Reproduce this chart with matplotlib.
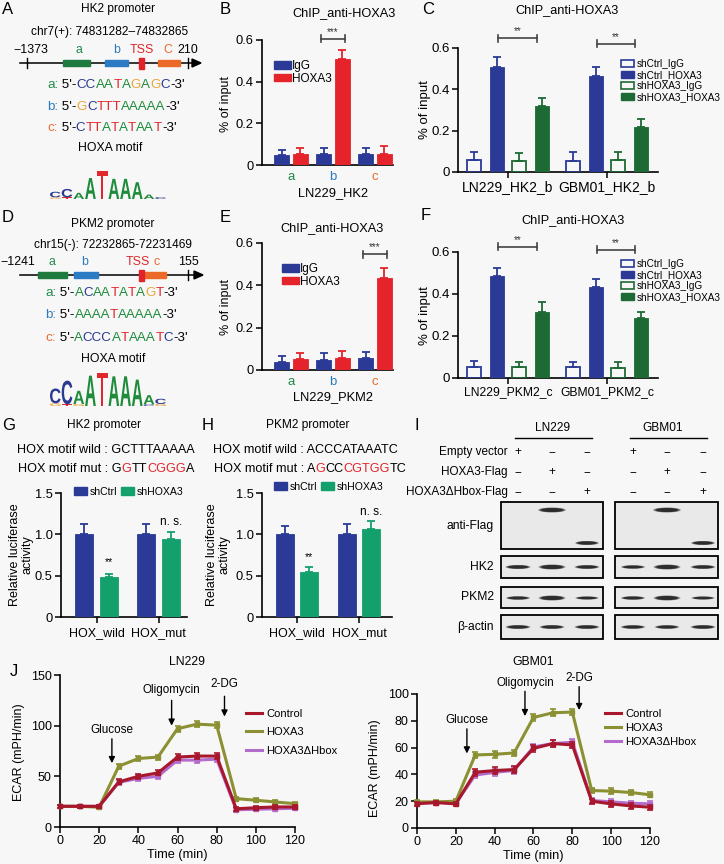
import numpy as np
import matplotlib
matplotlib.use("Agg")
import matplotlib.pyplot as plt
from matplotlib.patches import Rectangle, Ellipse, Patch, PathPatch, Polygon
from matplotlib.lines import Line2D
from matplotlib.textpath import TextPath
from matplotlib.font_manager import FontProperties
from matplotlib.transforms import Affine2D

plt.rcParams['font.family'] = ['Liberation Sans', 'DejaVu Sans']
plt.rcParams['axes.linewidth'] = 1.2
plt.rcParams['xtick.major.width'] = 1.1
plt.rcParams['ytick.major.width'] = 1.1

# ---------------- data ----------------
# B / E : ChIP at promoter sites a, b, c
sites = ['a', 'b', 'c']
hk2_igg = [0.050, 0.055, 0.052]
hk2_igg_err = [0.020, 0.025, 0.028]
hk2_hoxa3 = [0.055, 0.510, 0.055]
hk2_hoxa3_err = [0.025, 0.040, 0.035]
pkm2_igg = [0.040, 0.048, 0.055]
pkm2_igg_err = [0.025, 0.030, 0.030]
pkm2_hoxa3 = [0.050, 0.057, 0.435]
pkm2_hoxa3_err = [0.030, 0.035, 0.045]

# C / F : ChIP after knockdown
kd_series = ['shCtrl_IgG', 'shCtrl_HOXA3', 'shHOXA3_IgG', 'shHOXA3_HOXA3']
hk2b_groups = ['LN229_HK2_b', 'GBM01_HK2_b']
hk2b_shctrl_igg = [0.060, 0.055]
hk2b_shctrl_igg_err = [0.035, 0.040]
hk2b_shctrl_hoxa3 = [0.510, 0.465]
hk2b_shctrl_hoxa3_err = [0.045, 0.045]
hk2b_shhoxa3_igg = [0.055, 0.060]
hk2b_shhoxa3_igg_err = [0.035, 0.035]
hk2b_shhoxa3_hoxa3 = [0.320, 0.220]
hk2b_shhoxa3_hoxa3_err = [0.040, 0.035]

pkm2c_groups = ['LN229_PKM2_c', 'GBM01_PKM2_c']
pkm2c_shctrl_igg = [0.052, 0.052]
pkm2c_shctrl_igg_err = [0.030, 0.022]
pkm2c_shctrl_hoxa3 = [0.485, 0.432]
pkm2c_shctrl_hoxa3_err = [0.040, 0.040]
pkm2c_shhoxa3_igg = [0.053, 0.050]
pkm2c_shhoxa3_igg_err = [0.025, 0.025]
pkm2c_shhoxa3_hoxa3 = [0.315, 0.288]
pkm2c_shhoxa3_hoxa3_err = [0.045, 0.028]

# G / H : luciferase
luc_groups = ['HOX_wild', 'HOX_mut']
hk2_luc_shctrl = [1.00, 1.00]
hk2_luc_shctrl_err = [0.12, 0.13]
hk2_luc_shhoxa3 = [0.48, 0.94]
hk2_luc_shhoxa3_err = [0.045, 0.09]
pkm2_luc_shctrl = [1.00, 1.00]
pkm2_luc_shctrl_err = [0.10, 0.12]
pkm2_luc_shhoxa3 = [0.55, 1.07]
pkm2_luc_shhoxa3_err = [0.05, 0.09]

# I : western blot band intensities (lanes: empty, HOXA3, dHbox)
treatments = ['Empty vector', 'HOXA3-Flag', 'HOXA3\u0394Hbox-Flag']
treat_signs = [['+', '\u2212', '\u2212'], ['\u2212', '+', '\u2212'], ['\u2212', '\u2212', '+']]
flag_full = [0, 1.0, 0]
flag_hbox = [0, 0, 1.0]
ln229_hk2 = [0.75, 1.0, 0.7]
gbm01_hk2 = [0.6, 1.0, 0.7]
ln229_pkm2 = [0.6, 1.0, 0.5]
gbm01_pkm2 = [0.6, 1.0, 0.5]
ln229_actin = [0.7, 0.7, 0.7]
gbm01_actin = [0.65, 0.65, 0.7]

# J : ECAR time course
time_min = [0, 10, 20, 30, 40, 50, 60, 70, 80, 90, 100, 110, 120]
ln229_control = [20.4, 20.4, 20.4, 44.5, 50.0, 53.4, 69.0, 70.0, 70.0, 18.0, 19.0, 19.8, 19.8]
ln229_hoxa3 = [20.4, 20.4, 19.5, 60.0, 67.6, 69.0, 97.0, 101.5, 100.5, 28.0, 26.4, 24.7, 23.0]
ln229_hbox = [20.4, 20.4, 20.4, 44.0, 48.0, 50.0, 66.0, 66.0, 67.0, 17.0, 17.5, 18.0, 18.5]
ln229_err = [1.5, 1.5, 1.5, 2.5, 2.5, 2.5, 3.0, 3.0, 3.0, 2.0, 2.0, 2.0, 2.0]
gbm01_control = [18.2, 19.0, 18.0, 41.6, 42.9, 43.6, 59.4, 63.0, 62.0, 20.0, 18.0, 16.5, 15.5]
gbm01_hoxa3 = [19.5, 19.5, 20.0, 54.5, 55.0, 56.0, 82.5, 86.0, 86.5, 28.0, 27.5, 26.5, 24.8]
gbm01_hbox = [18.5, 19.0, 18.5, 39.5, 41.5, 43.0, 60.5, 63.0, 64.0, 20.5, 19.5, 18.5, 18.0]
gbm01_err = [1.5, 1.5, 1.5, 2.5, 2.5, 2.5, 2.5, 2.5, 2.5, 2.0, 2.0, 2.0, 2.0]

# motif logos: stacks of (letter, relative height) bottom to top
hk2_logo = [[('G', .06), ('C', .20)], [('T', .06), ('C', .30)], [('A', .22)], [('A', .75)],
            [('T', 1.0)], [('A', .72)], [('A', .72)], [('A', .60)], [('A', .16)], [('C', .07)]]
pkm2_logo = [[('G', .08), ('C', .45)], [('T', .05), ('C', .72)], [('G', .06), ('A', .40)], [('A', .92)],
             [('T', 1.0)], [('A', .90)], [('A', .90)], [('A', .80)], [('C', .05), ('A', .28)], [('G', .06), ('C', .16)]]

# ---------------- style ----------------
BLUE = '#2a3a96'
RED = '#e4232b'
DKGREEN = '#1d6a34'
GREEN = '#14a06c'
J_CTRL = '#a8182c'
J_HOXA3 = '#8b9132'
J_HBOX = '#b46ccc'
NUC = {'A': '#1e8c3a', 'C': '#2b3990', 'G': '#eaa53a', 'T': '#e1262c'}
SITE = {'a': '#1f8a4b', 'b': '#2c7bbf', 'c': '#ea6a2a'}

W, H = 724, 864
BG = '#f7f7f7'
fig = plt.figure(figsize=(W / 100, H / 100), dpi=100, facecolor=BG)
ov = fig.add_axes([0, 0, 1, 1])
ov.set_xlim(0, W)
ov.set_ylim(H, 0)
ov.axis('off')


def fx(x):
    return x / W


def fy(y):
    return 1 - y / H


def txt(x, y, s, size=8.3, ha='center', va='center', **kw):
    return ov.text(x, y, s, fontsize=size, ha=ha, va=va, **kw)


def rich(x, y, parts, size):
    t = ov.text(x, y, parts[0][0], color=parts[0][1], fontsize=size, ha='left', va='center')
    for s, c in parts[1:]:
        t = ov.annotate(s, xy=(1, 0), xycoords=t, color=c, fontsize=size, ha='left', va='bottom')


def seq_line(x, y, site, seq):
    parts = [(site + ':', SITE[site]), (" 5'-", 'black')]
    for ch in seq:
        if parts[-1][1] == NUC[ch] and len(parts) > 2:
            parts[-1] = (parts[-1][0] + ch, NUC[ch])
        else:
            parts.append((ch, NUC[ch]))
    parts.append(("-3'", 'black'))
    rich(x, y, parts, 9.6)


def promoter(y, x0, x1, ticks, boxes, labels):
    ov.plot([x0, x1 - 6], [y, y], color='k', lw=1.1)
    ov.add_patch(Polygon([[x1 - 9, y - 4], [x1, y], [x1 - 9, y + 4]], closed=True, color='k'))
    for tx in ticks:
        ov.plot([tx, tx], [y - 5, y + 5], color='k', lw=1)
    for a, b, c, h in boxes:
        ov.add_patch(Rectangle((a, y - h / 2), b - a, h, color=c, zorder=3))
    for lx, ly, s, c in labels:
        txt(lx, ly, s, 8.9, color=c)


logo_font = FontProperties(family='Liberation Sans', weight='bold')


def logo(stacks, x0, x1, ybot, hmax):
    cw = (x1 - x0) / len(stacks)
    for i, stack in enumerate(stacks):
        yb = ybot
        for ch, rh in stack:
            h = rh * hmax
            tp = TextPath((0, 0), ch, size=100, prop=logo_font)
            bb = tp.get_extents()
            tr = Affine2D().translate(-bb.x0, -bb.y0).scale((cw - 1) / bb.width, -h / bb.height)
            tr = tr.translate(x0 + i * cw, yb)
            ov.add_patch(PathPatch(tr.transform_path(tp), facecolor=NUC[ch], edgecolor='none'))
            yb -= h


def style_ax(ax, labelsize=9.3):
    ax.set_facecolor('none')
    ax.spines['top'].set_visible(False)
    ax.spines['right'].set_visible(False)
    ax.tick_params(direction='out', length=4, labelsize=labelsize, pad=2)


def bar_panel(x0, x1, y0, y_tick, tick_val, top_val, c0, spacing):
    ppu = (y0 - y_tick) / tick_val
    ytop = y0 - top_val * ppu
    ax = fig.add_axes([fx(x0), fy(y0), (x1 - x0) / W, (y0 - ytop) / H])
    style_ax(ax)
    ax.set_ylim(0, top_val)
    ax.set_xlim((x0 - c0) / spacing, (x1 - c0) / spacing)
    ax.spines['left'].set_bounds(0, tick_val)
    return ax, ppu


def draw_bars(ax, pos, vals, errs, color, width, hollow=False):
    if hollow:
        ax.bar(pos, vals, width, facecolor='none', edgecolor=color, linewidth=1.3, zorder=3)
    else:
        ax.bar(pos, vals, width, facecolor=color, edgecolor=color, linewidth=0.6, zorder=3)
    ax.errorbar(pos, vals, yerr=[np.zeros(len(vals)), errs], fmt='none', ecolor=color,
                elinewidth=1.3, capsize=3, capthick=1.3, zorder=3, clip_on=False)


def sig(ax, x1, x2, y, label, ppu, size=7):
    d = 3.5 / ppu
    kw = dict(color='#444444', lw=1.2, clip_on=False)
    ax.plot([x1, x2], [y, y], **kw)
    ax.plot([x1, x1], [y - d, y + d], **kw)
    ax.plot([x2, x2], [y - d, y + d], **kw)
    ax.text((x1 + x2) / 2, y + 2 / ppu, label, ha='center', va='bottom', fontsize=size, color='#333333')


# ---------------- panel labels ----------------
for lab, x, y in [('A', 2, 10), ('B', 220, 10), ('C', 422, 10), ('D', 2, 217), ('E', 220, 218),
                  ('F', 421, 215), ('G', 2, 425), ('H', 202, 425), ('I', 414, 425), ('J', 10, 672)]:
    txt(x, y, lab, 12, ha='left')

# ---------------- A ----------------
txt(118, 9, 'HK2 promoter', 8.6)
txt(110, 32, 'chr7(+): 74831282\u201374832865', 8.6)
promoter(63, 20, 201, [27, 188],
         [(63, 90, '#1f7a3f', 6), (105, 128, '#2b7cc4', 6), (139, 144, '#e0242a', 11), (158, 180, '#eb6a2a', 6)],
         [(31, 50, '\u22121373', 'black'), (79, 50, 'a', SITE['a']), (117, 50, 'b', SITE['b']),
          (142, 50, 'TSS', '#e0242a'), (168, 50, 'C', SITE['c']), (188, 50, '210', 'black')])
seq_line(47, 85, 'a', 'CCAATAGAGC')
seq_line(47, 107, 'b', 'GCTTTAAAAA')
seq_line(47, 128, 'c', 'CTTATATAAT')
txt(110, 148, 'HOXA motif', 8.8)
logo(hk2_logo, 50, 167, 199, 28)

# ---------------- D ----------------
txt(113, 224, 'PKM2 promoter', 8.6)
txt(113, 245, 'chr15(-): 72232865-72231469', 8.6)
promoter(275, 20, 203, [188],
         [(38, 67, '#1f7a3f', 6), (74, 98, '#2b7cc4', 6), (144, 166, '#eb6a2a', 6), (139, 144, '#e0242a', 11)],
         [(18, 262, '\u22121241', 'black'), (52, 262, 'a', SITE['a']), (85, 262, 'b', SITE['b']),
          (138, 262, 'TSS', '#e0242a'), (157, 262, 'c', SITE['c']), (188, 262, '155', 'black')])
seq_line(45, 293, 'a', 'ACAATATAGT')
seq_line(45, 315, 'b', 'AAAATAAAAA')
seq_line(45, 338, 'c', 'ACCCATAAATC')
txt(113, 359, 'HOXA motif', 8.8)
logo(pkm2_logo, 50, 167, 406, 33)

# ---------------- B & E ----------------
xs = np.arange(len(sites))


def site_panel(y0, y06, igg, igg_err, hox, hox_err, title, title_xy, xlabel, xlabel_y,
               ylab_y, leg_y, leg_x, sig_group, sig_y):
    ax, ppu = bar_panel(262, 393, y0, y06, 0.6, 0.72, 291, 42)
    draw_bars(ax, xs - 0.225, igg, igg_err, BLUE, 0.36)
    draw_bars(ax, xs + 0.225, hox, hox_err, RED, 0.36)
    ax.set_yticks([0, 0.2, 0.4, 0.6])
    ax.set_yticklabels(['0', '0.2', '0.4', '0.6'])
    ax.set_xticks(xs)
    ax.set_xticklabels(sites, fontsize=9.5)
    for lab, s in zip(ax.get_xticklabels(), sites):
        lab.set_color(SITE[s])
    ax.tick_params(axis='x', length=0, pad=4)
    sig(ax, sig_group - 0.29, sig_group + 0.29, sig_y, '***', ppu)
    ax.legend(handles=[Patch(color=BLUE), Patch(color=RED)], labels=['IgG', 'HOXA3'],
              loc='upper left', bbox_to_anchor=(fx(leg_x), fy(leg_y)), bbox_transform=fig.transFigure,
              frameon=False, fontsize=8.5, handlelength=1.4, handleheight=0.6, handletextpad=0.15,
              labelspacing=0.05, borderpad=0, borderaxespad=0)
    txt(title_xy[0], title_xy[1], title, 9.2)
    txt(333, xlabel_y, xlabel, 9.3)
    txt(226, ylab_y, '% of input', 9, rotation=90)
    return ax


site_panel(165, 40, hk2_igg, hk2_igg_err, hk2_hoxa3, hk2_hoxa3_err, 'ChIP_anti-HOXA3', (344, 13),
           'LN229_HK2', 193, 104, 60, 274, 1, 0.605)
site_panel(370, 243, pkm2_igg, pkm2_igg_err, pkm2_hoxa3, pkm2_hoxa3_err, 'ChIP_anti-HOXA3', (332, 228),
           'LN229_PKM2', 397, 307, 263, 282, 2, 0.548)

# ---------------- C & F ----------------
offs = [-0.343, -0.111, 0.111, 0.343]
xs2 = np.arange(2)


def kd_panel(y0, y06, groups, vals, errs, title_xy, ylab_y, leg_y, sig_ys, xlab_size):
    ax, ppu = bar_panel(458, 658, y0, y06, 0.6, 0.72, 508, 99)
    cols = [BLUE, BLUE, DKGREEN, DKGREEN]
    hol = [True, False, True, False]
    for k in range(4):
        draw_bars(ax, xs2 + offs[k], vals[k], errs[k], cols[k], 0.15, hollow=hol[k])
    ax.set_yticks([0, 0.2, 0.4, 0.6])
    ax.set_yticklabels(['0', '0.2', '0.4', '0.6'], fontsize=9.5)
    ax.set_xticks(xs2)
    ax.set_xticklabels(groups, fontsize=xlab_size)
    sig(ax, -0.10, 0.29, sig_ys[0], '**', ppu)
    sig(ax, 0.90, 1.28, sig_ys[1], '**', ppu)
    handles = [Patch(facecolor='none', edgecolor=BLUE, lw=1.2), Patch(color=BLUE),
               Patch(facecolor='none', edgecolor=DKGREEN, lw=1.2), Patch(color=DKGREEN)]
    ax.legend(handles=handles, labels=kd_series, loc='upper left', bbox_to_anchor=(fx(621), fy(leg_y)),
              bbox_transform=fig.transFigure, frameon=False, fontsize=7.2, handlelength=1.3,
              handleheight=0.7, handletextpad=0.3, labelspacing=0.1, borderpad=0, borderaxespad=0)
    txt(title_xy[0], title_xy[1], 'ChIP_anti-HOXA3', 9.2)
    txt(425, ylab_y, '% of input', 9.5, rotation=90)


kd_panel(172, 48, hk2b_groups,
         [hk2b_shctrl_igg, hk2b_shctrl_hoxa3, hk2b_shhoxa3_igg, hk2b_shhoxa3_hoxa3],
         [hk2b_shctrl_igg_err, hk2b_shctrl_hoxa3_err, hk2b_shhoxa3_igg_err, hk2b_shhoxa3_hoxa3_err],
         (567, 10), 110, 59, [0.648, 0.62], 10)
kd_panel(378, 252, pkm2c_groups,
         [pkm2c_shctrl_igg, pkm2c_shctrl_hoxa3, pkm2c_shhoxa3_igg, pkm2c_shhoxa3_hoxa3],
         [pkm2c_shctrl_igg_err, pkm2c_shctrl_hoxa3_err, pkm2c_shhoxa3_igg_err, pkm2c_shhoxa3_hoxa3_err],
         (573, 220), 316, 259, [0.624, 0.61], 8.7)

# ---------------- G & H ----------------


def luc_panel(x0, x1, c0, ctrl, ctrl_err, kd, kd_err, title, title_x, wild_parts, mut_parts, text_x,
              ylab_x, leg_x, leg_y, star_y, ns_y):
    ax, ppu = bar_panel(x0, x1, 617, 493, 1.5, 1.6, c0, 62)
    draw_bars(ax, xs2 - 0.2, ctrl, ctrl_err, BLUE, 0.29)
    draw_bars(ax, xs2 + 0.2, kd, kd_err, GREEN, 0.29)
    ax.set_yticks([0, 0.5, 1.0, 1.5])
    ax.set_yticklabels(['0', '0.5', '1.0', '1.5'])
    ax.set_xticks(xs2)
    ax.set_xticklabels(luc_groups, fontsize=9)
    ax.tick_params(axis='x', pad=3)
    ax.text(0.2, star_y, '**', ha='center', va='center', fontsize=7.5)
    ax.text(1.2, ns_y, 'n. s.', ha='center', va='center', fontsize=8.5)
    ax.legend(handles=[Patch(color=BLUE), Patch(color=GREEN)], labels=['shCtrl', 'shHOXA3'], ncol=2,
              loc='center left', bbox_to_anchor=(fx(leg_x), fy(leg_y)), bbox_transform=fig.transFigure,
              frameon=False, fontsize=7.6, handlelength=1.25, handleheight=0.75, handletextpad=0.25,
              columnspacing=0.3, borderpad=0, borderaxespad=0)
    txt(title_x, 425, title, 8.6)
    rich(text_x, 450, wild_parts, 9.1)
    rich(text_x + 1, 469, mut_parts, 9.1)
    txt(ylab_x, 555, 'Relative luciferase\nactivity', 9, rotation=90, linespacing=1.05)


luc_panel(61, 187, 96.5, hk2_luc_shctrl, hk2_luc_shctrl_err, hk2_luc_shhoxa3, hk2_luc_shhoxa3_err,
          'HK2 promoter', 104,
          [('HOX motif wild : GCTTTAAAAA', 'black')],
          [('HOX motif mut : G', 'black'), ('G', RED), ('TT', 'black'), ('CGGG', RED), ('A', 'black')],
          17, 21, 74, 492, 0.665, 1.15)
luc_panel(262, 392, 297, pkm2_luc_shctrl, pkm2_luc_shctrl_err, pkm2_luc_shhoxa3, pkm2_luc_shhoxa3_err,
          'PKM2 promoter', 308,
          [('HOX motif wild : ACCCATAAATC', 'black')],
          [('HOX motif mut : A', 'black'), ('G', RED), ('CC', 'black'), ('CGTGG', RED), ('TC', 'black')],
          213, 218, 274, 487, 0.73, 1.27)

# ---------------- I : western blot ----------------
lanes = {'LN229': [518, 552, 587], 'GBM01': [633, 667, 703]}
boxes_x = {'LN229': (501, 603), 'GBM01': (615, 718)}
txt(553, 428, 'LN229', 8.6)
ov.plot([515, 592], [438, 438], color='k', lw=1)
txt(663, 428, 'GBM01', 8.6)
ov.plot([630, 707], [438, 438], color='k', lw=1)
for r, (lab, signs) in enumerate(zip(treatments, treat_signs)):
    yy = 452 + 20 * r
    txt(508, yy, lab, 8.5, ha='right')
    for cl in ['LN229', 'GBM01']:
        for lx, s in zip(lanes[cl], signs):
            txt(lx, yy, s, 8.5)

rows = [('anti-Flag', 502, 549), ('HK2', 556, 578), ('PKM2', 587, 608), ('\u03b2-actin', 615, 639)]
for lab, y0, y1 in rows:
    txt(494, (y0 + y1) / 2, lab, 8.7, ha='right')
    for cl in ['LN229', 'GBM01']:
        bx0, bx1 = boxes_x[cl]
        ov.add_patch(Rectangle((bx0, y0), bx1 - bx0, y1 - y0, facecolor='#e9e9e9', edgecolor='k', lw=1.3, zorder=3))


def band(x, y, inten, wbase=20, hbase=2.5):
    if inten <= 0:
        return
    w = wbase + 7 * inten
    h = hbase + 4 * inten
    for s, a in [(1.0, 0.3), (0.92, 0.45), (0.8, 0.7)]:
        ov.add_patch(Ellipse((x, y), w * s, h * s * 0.9, facecolor='#141414', edgecolor='none', alpha=a, zorder=4))


blot_rows = [
    (510, {'LN229': flag_full, 'GBM01': flag_full}, 21, 1.5),
    (543, {'LN229': flag_hbox, 'GBM01': flag_hbox}, 17, 0.5),
    (567, {'LN229': ln229_hk2, 'GBM01': gbm01_hk2}, 20, 1.5),
    (598, {'LN229': ln229_pkm2, 'GBM01': gbm01_pkm2}, 20, 1.5),
    (627, {'LN229': ln229_actin, 'GBM01': gbm01_actin}, 20, 1.5),
]
for yb, inten, wb, hb in blot_rows:
    for cl in ['LN229', 'GBM01']:
        for lx, v in zip(lanes[cl], inten[cl]):
            band(lx, yb, v, wb, hb)

# ---------------- J : ECAR ----------------


def ecar_panel(x0, x1, y0, y1, ymax, yticks, ctrl, hox, hbox, err, title, title_x, ylab_x, ylab_y,
               arrows, leg_xy, leg_sp):
    ax = fig.add_axes([fx(x0), fy(y0), (x1 - x0) / W, (y0 - y1) / H])
    style_ax(ax, 9)
    ax.set_xlim(0, 120)
    ax.set_ylim(0, ymax)
    ax.set_xticks([0, 20, 40, 60, 80, 100, 120])
    ax.set_yticks(yticks)
    for vals, c, z in [(hbox, J_HBOX, 3), (hox, J_HOXA3, 4), (ctrl, J_CTRL, 5)]:
        ax.errorbar(time_min, vals, yerr=err, color=c, lw=2.2, elinewidth=1.2, capsize=2.5, capthick=1.2,
                    marker='s', ms=3, zorder=z, clip_on=False)
    for name, t, ytxt, ytail, ytip in arrows:
        ax.annotate('', xy=(t, ytip), xytext=(t, ytail), annotation_clip=False,
                    arrowprops=dict(arrowstyle='-|>', color='black', lw=1.0, mutation_scale=9,
                                    shrinkA=0, shrinkB=0))
        ax.text(t, ytxt, name, ha='center', va='center', fontsize=8.4, clip_on=False)
    handles = [Line2D([0], [0], color=J_CTRL, lw=2.2), Line2D([0], [0], color=J_HOXA3, lw=2.2),
               Line2D([0], [0], color=J_HBOX, lw=2.2)]
    ax.legend(handles=handles, labels=['Control', 'HOXA3', 'HOXA3\u0394Hbox'], loc='upper left',
              bbox_to_anchor=(fx(leg_xy[0]), fy(leg_xy[1])), bbox_transform=fig.transFigure,
              frameon=False, fontsize=8, handlelength=1.4, handletextpad=0.4, labelspacing=leg_sp,
              borderpad=0, borderaxespad=0)
    ax.set_xlabel('Time (min)', fontsize=9.2, labelpad=1)
    txt(title_x, 662, title, 8.8)
    txt(ylab_x, ylab_y, 'ECAR (mPH/min)', 9, rotation=90)


ecar_panel(60, 295, 827, 675, 150, [0, 50, 100, 150], ln229_control, ln229_hoxa3, ln229_hbox, ln229_err,
           'LN229', 187, 19, 752,
           [('Glucose', 26.5, 96, 87, 63), ('Oligomycin', 57, 135, 125, 100), ('2-DG', 84, 141, 129, 109)],
           (246, 709), 0.75)
ecar_panel(417, 650, 828, 694, 100, [0, 20, 40, 60, 80, 100], gbm01_control, gbm01_hoxa3, gbm01_hbox,
           gbm01_err, 'GBM01', 533, 375, 768,
           [('Glucose', 25.7, 80.5, 74, 55.6), ('Oligomycin', 55.6, 108, 102, 83.5), ('2-DG', 83.5, 111.7, 105.5, 88)],
           (605, 709), 0.35)

fig.savefig('out.png', dpi=100, facecolor=BG)
